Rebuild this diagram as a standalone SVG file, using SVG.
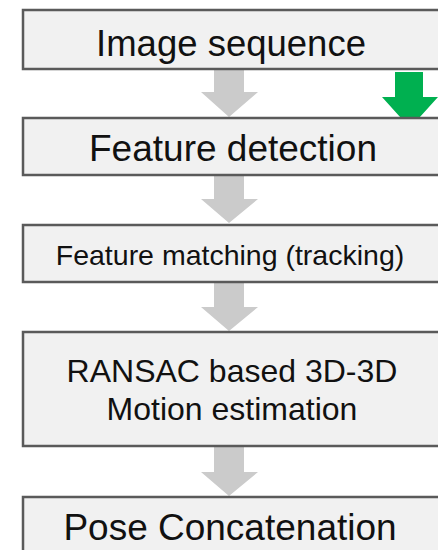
<svg xmlns="http://www.w3.org/2000/svg" width="438" height="550" viewBox="0 0 438 550">
<style>
.box{fill:#f1f1f1;stroke:#5a5a5a;stroke-width:2.5}
.t{font-family:"Liberation Sans",Arial,sans-serif;fill:#111;text-anchor:middle}
.arr{fill:#cbcbcb}
.green{fill:#00b050}
</style>
<rect width="438" height="550" fill="#ffffff"/>
<g id="connectors">
<path class="arr" d="M214,69 H244 V92 H258 L229,117 L201,92 H214 Z"/>
<path class="arr" d="M214,175 H244 V199 H258 L229,223 L201,199 H214 Z"/>
<path class="arr" d="M214,282 H244 V307 H258 L229,331 L201,307 H214 Z"/>
<path class="arr" d="M214,446 H244 V472 H258 L229,496 L201,472 H214 Z"/>
<path class="green" d="M395,72 H423 V97 H438 L410,128 L382,97 H395 Z"/>
</g>
<g id="n1"><rect class="box" x="23" y="10" width="420" height="59"/><text class="t" x="231" y="55.5" font-size="36.5">Image sequence</text></g>
<g id="n2"><rect class="box" x="23" y="118" width="420" height="57"/><text class="t" x="233" y="161" font-size="37">Feature detection</text></g>
<g id="n3"><rect class="box" x="23" y="225" width="420" height="57"/><text class="t" x="230" y="265" font-size="28.5">Feature matching (tracking)</text></g>
<g id="n4"><rect class="box" x="23" y="332" width="420" height="114"/><text class="t" x="232" y="382" font-size="32">RANSAC based 3D-3D</text><text class="t" x="232" y="420" font-size="32">Motion estimation</text></g>
<g id="n5"><rect class="box" x="23" y="497" width="420" height="70"/><text class="t" x="230" y="540" font-size="37">Pose Concatenation</text></g>
</svg>
